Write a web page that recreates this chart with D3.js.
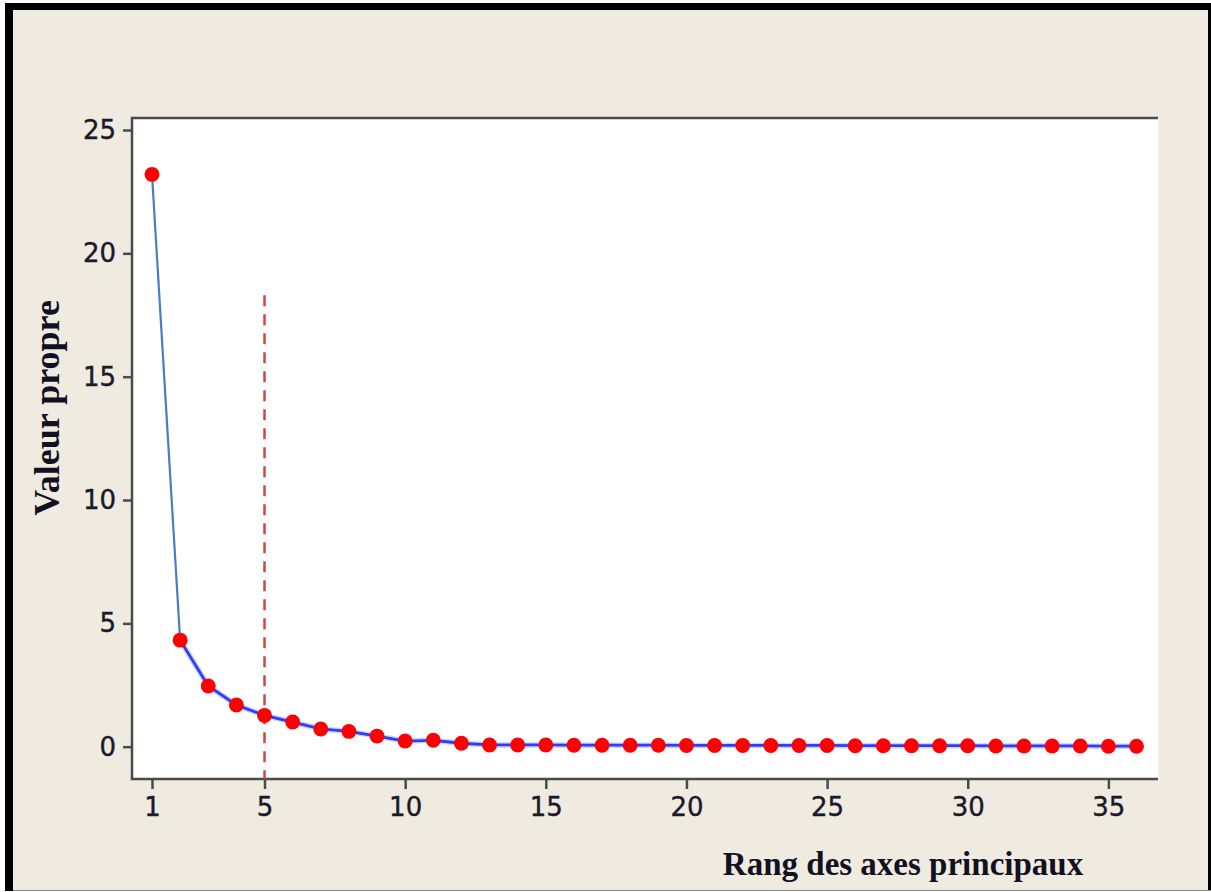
<!DOCTYPE html>
<html>
<head>
<meta charset="utf-8">
<script src="https://cdn.jsdelivr.net/npm/d3@7"></script>
<style>
html,body{margin:0;padding:0;background:#fff;}
svg{display:block;}
</style>
</head>
<body>
<svg id="chart" width="1211" height="892"></svg>
<script>
// ---- data ----
const ranks = d3.range(1, 37);
const eigenvalues = [23.2, 4.32, 2.46, 1.69, 1.27, 1.0, 0.72, 0.62, 0.43, 0.23, 0.26, 0.14,
  0.07, 0.07, 0.07, 0.06, 0.06, 0.06, 0.06, 0.05, 0.05, 0.05, 0.05, 0.05, 0.05, 0.04,
  0.04, 0.04, 0.04, 0.04, 0.03, 0.03, 0.03, 0.03, 0.02, 0.02];
const xTickValues = [1, 5, 10, 15, 20, 25, 30, 35];
const yTickValues = [0, 5, 10, 15, 20, 25];
const cutRank = 5;
const cutTop = 18.3;
const xTitle = "Rang des axes principaux";
const yTitle = "Valeur propre";

const svg = d3.select("#chart");

// background and outer frame
svg.append("rect").attr("x", 0).attr("y", 0).attr("width", 1211).attr("height", 892).attr("fill", "#ffffff");
svg.append("rect").attr("x", 5).attr("y", 3).attr("width", 1206).attr("height", 888).attr("fill", "#000000");
svg.append("rect").attr("x", 13).attr("y", 10).attr("width", 1195).attr("height", 880).attr("fill", "#efebe1");
svg.append("line").attr("x1", 13).attr("x2", 1211).attr("y1", 890.5).attr("y2", 890.5)
  .attr("stroke", "#8a8a8a").attr("stroke-width", 1);

// plot area
const plot = {left: 132, right: 1158, top: 118, bottom: 779};
const x = d3.scaleLinear().domain([1, 36]).range([152, 1136.5]);
const y = d3.scaleLinear().domain([0, 25]).range([746.7, 130]);

svg.append("rect").attr("x", plot.left).attr("y", plot.top)
  .attr("width", plot.right - plot.left).attr("height", plot.bottom - plot.top)
  .attr("fill", "#ffffff");

// frame lines (top, left, bottom)
const frameColor = "#4a4a4a";
svg.append("path")
  .attr("d", `M${plot.right},${plot.top}H${plot.left}V${plot.bottom}H${plot.right}`)
  .attr("fill", "none").attr("stroke", frameColor).attr("stroke-width", 2.5);

// axes
const tickFont = "'DejaVu Sans', Verdana, sans-serif";
const yAxis = d3.axisLeft(y).tickValues(yTickValues).tickSize(8).tickPadding(7);
const gy = svg.append("g").attr("transform", `translate(${plot.left - 1},0)`).call(yAxis);
const xAxis = d3.axisBottom(x).tickValues(xTickValues).tickSize(9).tickPadding(8);
const gx = svg.append("g").attr("transform", `translate(0,${plot.bottom + 1})`).call(xAxis);
[gx, gy].forEach(g => {
  g.select(".domain").remove();
  g.selectAll(".tick line").attr("stroke", frameColor).attr("stroke-width", 2.5);
  g.selectAll(".tick text").attr("fill", "#1a1a2a")
    .attr("stroke", "#1a1a2a").attr("stroke-width", 0.4)
    .style("font-family", tickFont).style("font-size", "26px");
});
gx.selectAll(".tick text").attr("dy", "0.74em");

// dashed cut-off line
svg.append("line")
  .attr("x1", x(cutRank)).attr("x2", x(cutRank))
  .attr("y1", y(cutTop)).attr("y2", plot.bottom)
  .attr("stroke", "#cf4646").attr("stroke-width", 2.5)
  .attr("stroke-dasharray", "11,8");

// line: first segment steel blue, rest bright blue with glow
const pts = ranks.map((r, i) => [x(r), y(eigenvalues[i])]);
svg.append("line")
  .attr("x1", pts[0][0]).attr("y1", pts[0][1]).attr("x2", pts[1][0]).attr("y2", pts[1][1])
  .attr("stroke", "#4b7cc4").attr("stroke-width", 2.2);
const lineGen = d3.line();
svg.append("path").attr("d", lineGen(pts.slice(1)))
  .attr("fill", "none").attr("stroke", "#9aa8ff").attr("stroke-width", 5.5).attr("stroke-opacity", 0.5);
svg.append("path").attr("d", lineGen(pts.slice(1)))
  .attr("fill", "none").attr("stroke", "#2f3cff").attr("stroke-width", 2.8);

// markers
const sym = d3.symbol().type(d3.symbolCircle).size(175);
svg.append("g").selectAll("path").data(ranks).join("path")
  .attr("transform", (r, i) => `translate(${x(r)},${y(eigenvalues[i])})`)
  .attr("d", sym)
  .attr("fill", "#ff0000");

// axis titles
const titleFont = "'Liberation Serif', 'Times New Roman', serif";
svg.append("text")
  .attr("x", 903).attr("y", 875)
  .attr("text-anchor", "middle")
  .style("font-family", titleFont).style("font-weight", "bold").style("font-size", "33px")
  .attr("fill", "#111122")
  .text(xTitle);
svg.append("text")
  .attr("transform", `translate(59,408) rotate(-90)`)
  .attr("text-anchor", "middle")
  .style("font-family", titleFont).style("font-weight", "bold").style("font-size", "36px")
  .attr("fill", "#111122")
  .text(yTitle);
</script>
</body>
</html>
